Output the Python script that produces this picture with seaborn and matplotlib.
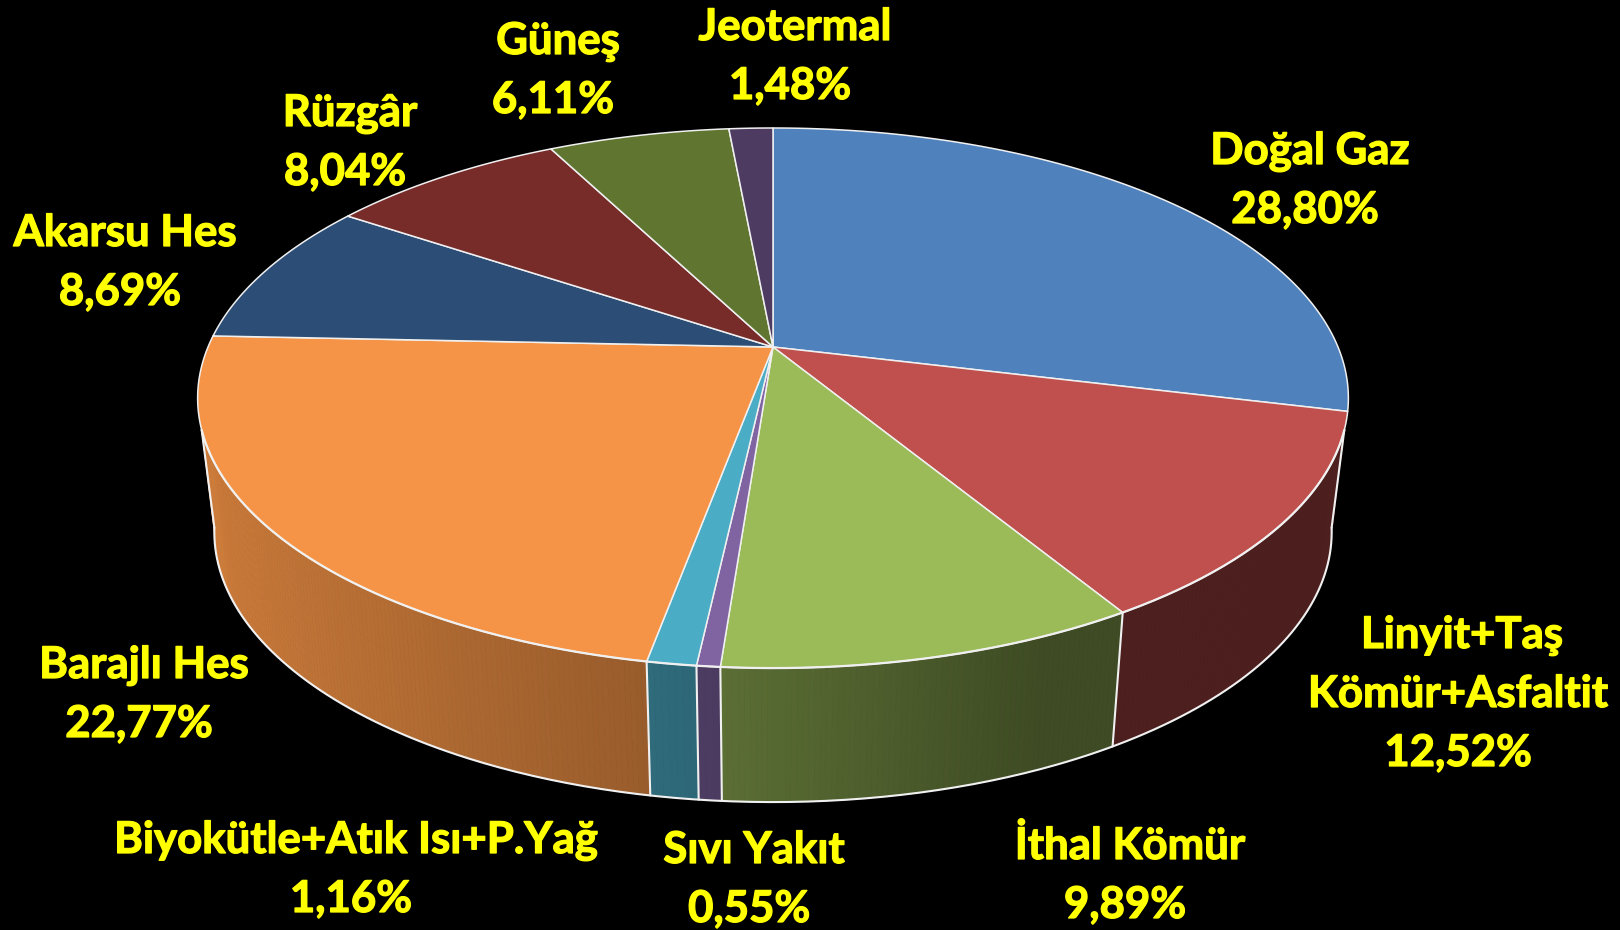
import numpy as np
import matplotlib
matplotlib.use("Agg")
import matplotlib.pyplot as plt
import matplotlib.patheffects as pe
import seaborn as sns

names = ["Doğal Gaz", "Linyit+Taş\nKömür+Asfaltit", "İthal Kömür", "Sıvı Yakıt",
         "Biyokütle+Atık Isı+P.Yağ", "Barajlı Hes", "Akarsu Hes", "Rüzgâr", "Güneş", "Jeotermal"]
values = [28.80, 12.52, 9.89, 0.55, 1.16, 22.77, 8.69, 8.04, 6.11, 1.48]
pct_labels = ["28,80%", "12,52%", "9,89%", "0,55%", "1,16%", "22,77%", "8,69%", "8,04%", "6,11%", "1,48%"]
colors = ["#4f81bd", "#c0504d", "#9bbb59", "#8064a2", "#4bacc6",
          "#f59446", "#2c4d75", "#772c2a", "#5f7530", "#4d3b62"]

# baseline and centre of the percent line of each label, in figure pixels
pct_x = [1305, 1458, 1125, 749, 351, 139, 120, 345, 553, 790]
pct_y = [223, 766, 918, 922, 912, 737, 305, 185, 113, 99]

sns.set_theme(style="white")
plt.rcParams["font.family"] = ["Lato", "DejaVu Sans"]
palette = sns.color_palette(colors)

# tilted disc seen in perspective
cx, cy = 773, 347
a, b, k = 565, 260.4, 0.189
floor_dy, floor_sx = 134, 0.971
edge = "#f0f0f0"
yellow = "#ffff00"


def project(theta, low=False):
    u, v = np.sin(theta), np.cos(theta)
    w = 1 + k * v
    x = a * u / w
    y = cy - b * v / w
    if low:
        return cx + x * floor_sx, y + floor_dy
    return cx + x, y


def shade(color, theta):
    f = np.interp(np.sin(theta), [-1, -0.1, 0.4, 1], [0.85, 0.6, 0.4, 0.4])
    return tuple(c * f for c in color)


fig = plt.figure(figsize=(16.2, 9.3), dpi=100, facecolor="black")
ax = fig.add_axes([0, 0, 1, 1], facecolor="black")
ax.set_xlim(0, 1620)
ax.set_ylim(930, 0)
ax.axis("off")

cuts = np.concatenate([[0], np.cumsum(values)]) / np.sum(values) * 2 * np.pi
side_start, side_end = np.radians(107.5), np.radians(252.5)
low_start, low_end = np.radians(100), np.radians(260)

# side wall, painted in thin strips for the shading
for i in range(len(values)):
    t0, t1 = max(cuts[i], side_start), min(cuts[i + 1], side_end)
    if t1 <= t0:
        continue
    ts = np.linspace(t0, t1, max(2, int((t1 - t0) * 120)))
    for s0, s1 in zip(ts[:-1], ts[1:]):
        x0, y0 = project(np.array([s0, s1]))
        x1, y1 = project(np.array([s1, s0]), low=True)
        c = shade(palette[i], (s0 + s1) / 2)
        ax.fill(np.r_[x0, x1], np.r_[y0, y1], color=c, lw=0.6, zorder=1)

# the wall's outer ends reach the floor a little further round than the top
for t, t_low, i in [(side_start, low_start, 1), (side_end, low_end, 5)]:
    x0, y0 = project(t)
    x1, y1 = project(np.linspace(t, t_low, 30), low=True)
    ax.fill(np.r_[x0, x1], np.r_[y0, y1], color=shade(palette[i], t), lw=0.6, zorder=1)
    ax.plot([x0, x1[-1]], [y0, y1[-1]], color=edge, lw=1.5, zorder=2)

# outline of the wall
ts = np.linspace(low_start, low_end, 300)
x, y = project(ts, low=True)
ax.plot(x, y, color=edge, lw=1.5, zorder=2)
for t in cuts[(cuts > side_start) & (cuts < side_end)]:
    x0, y0 = project(t)
    x1, y1 = project(t, low=True)
    ax.plot([x0, x1], [y0, y1], color=edge, lw=1.5, zorder=2)

# top face
for i in range(len(values)):
    ts = np.linspace(cuts[i], cuts[i + 1], 200)
    x, y = project(ts)
    ax.fill(np.r_[cx, x], np.r_[cy, y], facecolor=palette[i], edgecolor=edge,
            lw=1.1, joinstyle="round", zorder=3)

# front rim is heavier than the back
x, y = project(np.linspace(side_start, side_end, 300))
ax.plot(x, y, color=edge, lw=1.6, zorder=4)

stroke = [pe.withStroke(linewidth=0.9, foreground=yellow)]
for i in range(len(names)):
    ax.text(pct_x[i], pct_y[i], pct_labels[i], color=yellow, fontsize=31.5, fontweight="bold",
            ha="center", va="baseline", zorder=5, path_effects=stroke)
    lines = names[i].split("\n")
    for j, line in enumerate(reversed(lines)):
        shift = 5 if len(lines) == 1 else (0 if j == 0 else 4)
        ax.text(pct_x[i] + shift, pct_y[i] - 59 * (j + 1), line, color=yellow, fontsize=31.5,
                fontweight="bold", ha="center", va="baseline", zorder=5, path_effects=stroke)

fig.savefig("out.png", dpi=100, facecolor="black")
